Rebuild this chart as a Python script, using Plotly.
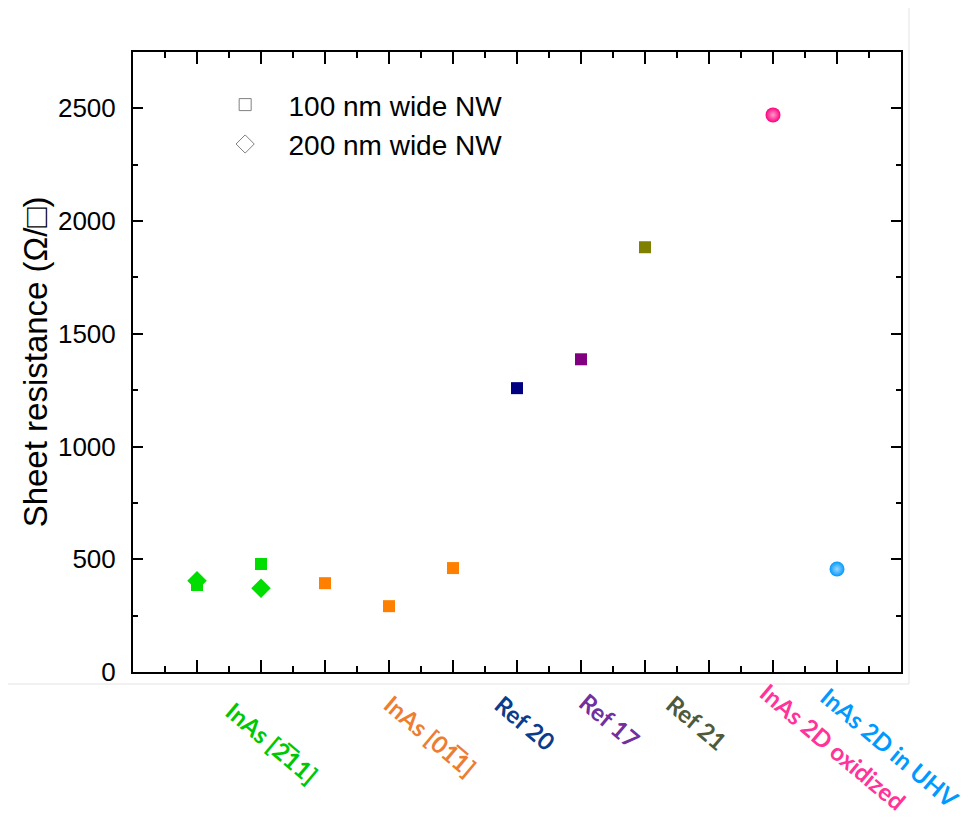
import plotly.graph_objects as go

# ---------------- data ----------------
categories = ["InAs [2\u030511]", "InAs [01\u03051]", "Ref 20", "Ref 17", "Ref 21",
              "InAs 2D oxidized", "InAs 2D in UHV"]
category_colors = ["#00C800", "#ED7D31", "#0B3C8C", "#7030A0", "#4F5A3C", "#FF3399", "#0099FF"]

# 100 nm wide NW (squares)
sq_x = [1, 2, 3, 4, 5, 6, 7, 8]
sq_y = [386, 479, 394, 292, 461, 1259, 1387, 1884]
sq_colors = ["#00DD00", "#00DD00", "#FF8000", "#FF8000", "#FF8000", "#000080", "#800080", "#808000"]

# 200 nm wide NW (diamonds)
dia_x = [1, 2]
dia_y = [405, 372]
dia_colors = ["#00DD00", "#00DD00"]

# 2D InAs (spheres)
sph_x = [10, 11]
sph_y = [2471, 457]
sph_colors = ["#FF0080", "#0099FF"]
sph_highlight = ["#FF9CCB", "#9CD8FF"]

# label placement (category centre in x data units, y in paper units)
label_x = [2.17, 4.64, 6.125, 7.45, 8.81, 10.94, 11.83]
label_y = [-0.114, -0.103, -0.081, -0.079, -0.082, -0.12, -0.121]

fig = go.Figure()

fig.add_trace(go.Scatter(x=dia_x, y=dia_y, mode="markers", showlegend=False,
                         marker=dict(symbol="diamond", size=15, color=dia_colors, line=dict(width=0))))
fig.add_trace(go.Scatter(x=sq_x, y=sq_y, mode="markers", showlegend=False,
                         marker=dict(symbol="square", size=12, color=sq_colors, line=dict(width=0))))
for xv, yv, c, h in zip(sph_x, sph_y, sph_colors, sph_highlight):
    fig.add_trace(go.Scatter(x=[xv], y=[yv], mode="markers", showlegend=False,
                             marker=dict(symbol="circle", size=15, color=c, line=dict(width=0),
                                         gradient=dict(type="radial", color=h))))

# legend-only entries
NB = "\u00a0\u00a0\u00a0"
fig.add_trace(go.Scatter(x=[None], y=[None], mode="markers", name=NB + "100 nm wide NW",
                         marker=dict(symbol="square-open", size=12, color="#808080", line=dict(width=1))))
fig.add_trace(go.Scatter(x=[None], y=[None], mode="markers", name=NB + "200 nm wide NW",
                         marker=dict(symbol="diamond-open", size=14, color="#808080", line=dict(width=1))))

annotations = []
for t, c, lx, ly in zip(categories, category_colors, label_x, label_y):
    annotations.append(dict(text=t, x=lx, y=ly, xref="x", yref="paper", showarrow=False,
                            textangle=40, xanchor="center", yanchor="middle",
                            font=dict(family="Lato", size=24, color=c, weight="bold")))

fig.update_layout(
    width=959, height=809,
    margin=dict(l=125, r=66, t=44, b=145),
    paper_bgcolor="white", plot_bgcolor="white",
    font=dict(family="Liberation Sans, Arial, sans-serif", color="black"),
    showlegend=True,
    legend=dict(x=0.12, y=0.955, xanchor="left", yanchor="top", bgcolor="rgba(0,0,0,0)",
                font=dict(size=28, family="Liberation Sans"), itemwidth=30, tracegroupgap=0),
    annotations=annotations,
    shapes=[
        dict(type="line", xref="paper", yref="paper", x0=-0.163, x1=1.0104, y0=-0.0194, y1=-0.0194,
             line=dict(color="#E4E4E4", width=1)),
        dict(type="line", xref="paper", yref="paper", x0=1.0104, x1=1.0104, y0=-0.0194, y1=1.074,
             line=dict(color="#E4E4E4", width=1)),
    ],
)

fig.update_xaxes(range=[0, 12], tickmode="linear", tick0=0, dtick=1, ticks="inside", ticklen=12,
                 tickwidth=2, tickcolor="black", showticklabels=False, showline=True, linewidth=2,
                 linecolor="black", mirror="allticks", showgrid=False, zeroline=False,
                 minor=dict(dtick=0.5, tick0=0, ticks="inside", ticklen=6, tickwidth=2, tickcolor="black",
                            showgrid=False))
fig.update_yaxes(range=[0, 2750], tickmode="linear", tick0=0, dtick=500, ticks="inside", ticklen=10,
                 tickwidth=2, tickcolor="black", showline=True, linewidth=2, linecolor="black",
                 mirror="allticks", showgrid=False, zeroline=False,
                 tickfont=dict(size=26, family="Liberation Sans", color="black"),
                 ticklabelstandoff=10,
                 title=dict(text="Sheet resistance (\u03a9/\u25a1)", standoff=0,
                            font=dict(size=33, family="Liberation Sans", color="black")),
                 minor=dict(dtick=250, tick0=0, ticks="inside", ticklen=5, tickwidth=2, tickcolor="black",
                            showgrid=False))

fig.write_html("out.html")
